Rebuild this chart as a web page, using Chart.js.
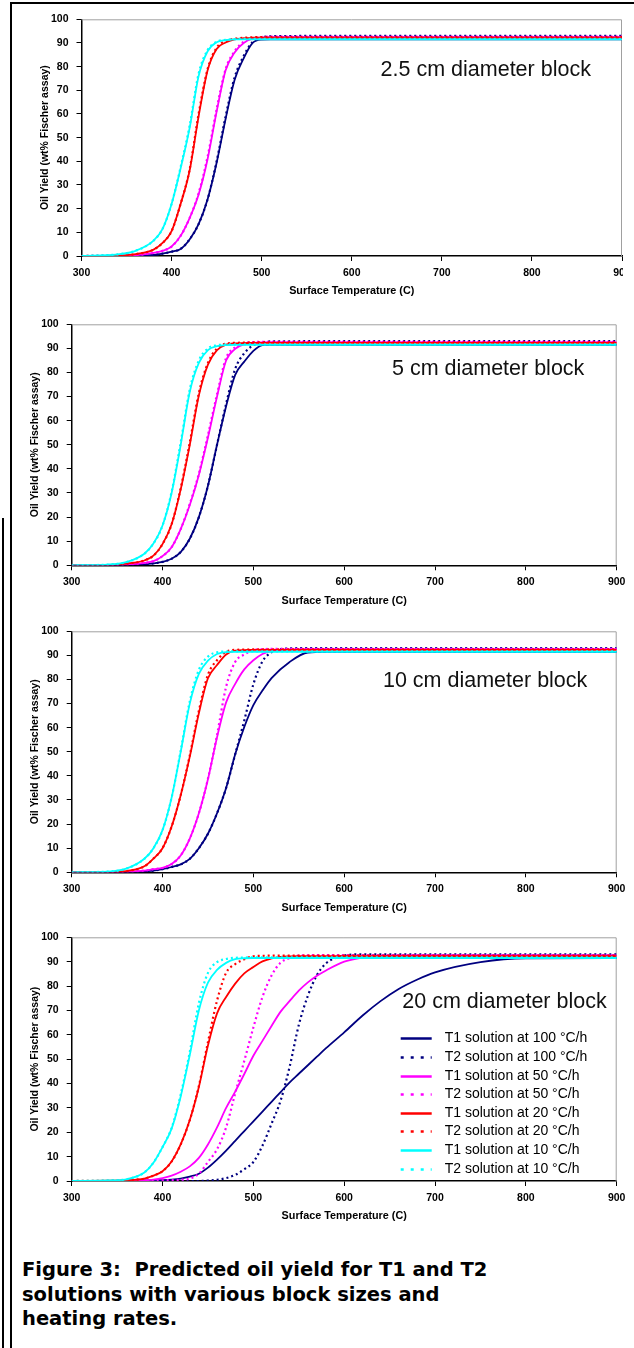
<!DOCTYPE html>
<html>
<head>
<meta charset="utf-8">
<script src="https://cdn.jsdelivr.net/npm/chart.js@4.4.0/dist/chart.umd.min.js"></script>
<style>
html, body { margin: 0; padding: 0; background: #fff; }
body { width: 634px; height: 1348px; position: relative; overflow: hidden; }
.panel { position: absolute; left: 0; overflow: hidden; }
.panel canvas { position: absolute; left: 0; top: 0; }
.frame { position: absolute; background: #000; }
#caption { position: absolute; left: 22px; top: 1258px; font: bold 19.5px "DejaVu Sans", Verdana, sans-serif;
  line-height: 24.5px; color: #000; white-space: pre; }
</style>
</head>
<body>
<div class="frame" style="left:10px;top:2px;width:624px;height:2px"></div>
<div class="frame" style="left:10px;top:2px;width:2px;height:1346px"></div>
<div class="frame" style="left:2px;top:518px;width:2px;height:830px"></div>

<div class="panel" id="p1"><canvas id="c1"></canvas></div>
<div class="panel" id="p2"><canvas id="c2"></canvas></div>
<div class="panel" id="p3"><canvas id="c3"></canvas></div>
<div class="panel" id="p4"><canvas id="c4"></canvas></div>

<div id="caption">Figure 3:  Predicted oil yield for T1 and T2
solutions with various block sizes and
heating rates.</div>

<script>
// surface temperatures (C) sampled for each block size
const temps25 = [300, 340, 360, 380, 390, 400, 410, 420, 430, 440, 450, 460, 470, 480, 490, 500, 510, 520, 600, 900];
const temps5 = [300, 340, 360, 380, 390, 400, 410, 420, 430, 440, 450, 460, 470, 480, 490, 500, 510, 520, 600, 900];
const temps10 = [300, 340, 360, 380, 390, 400, 410, 420, 430, 440, 450, 460, 470, 480, 490, 500, 510, 520, 540, 560, 580, 600, 900];
const temps20 = [300, 340, 360, 380, 390, 400, 410, 420, 430, 440, 450, 460, 470, 480, 490, 500, 510, 520, 530, 540, 550, 560, 570, 580, 600, 620, 640, 660, 680, 700, 750, 800, 900];

// 2.5 cm block - oil yield (wt% Fischer assay)
const b25_t1_100 = [0, 0, 0.1, 0.5, 1, 1.8, 3, 7, 13.5, 24, 39.4, 58, 74.5, 83.5, 90, 91.4, 91.5, 91.5, 91.5, 91.5];
const b25_t2_100 = [0, 0, 0.1, 0.5, 1, 1.8, 3, 7, 13.5, 24, 40, 59, 75.5, 84.5, 90.5, 92.3, 92.8, 92.9, 93, 93];
const b25_t1_50 = [0, 0.1, 0.4, 1.3, 2.2, 4, 8.5, 16, 26, 41, 61, 78.5, 86, 90, 91.8, 92.3, 92.5, 92.6, 92.6, 92.6];
const b25_t2_50 = [0, 0.1, 0.4, 1.3, 2.2, 4, 8.5, 16, 26.5, 42, 62, 79, 86.5, 90.5, 92, 92.5, 92.7, 92.7, 92.7, 92.7];
const b25_t1_20 = [0, 0.2, 0.8, 2.7, 5.5, 10.5, 22, 36, 59, 78.5, 87.5, 90.2, 91.5, 92, 92.2, 92.3, 92.3, 92.3, 92.3, 92.3];
const b25_t2_20 = [0, 0.2, 0.8, 2.7, 5.5, 10.5, 22, 36.5, 60, 79, 88, 90.8, 91.8, 92.2, 92.4, 92.5, 92.5, 92.5, 92.5, 92.5];
const b25_t1_10 = [0, 0.7, 2.2, 6.5, 11.5, 22, 37, 54, 76, 86.5, 90.3, 91.2, 91.5, 91.5, 91.5, 91.5, 91.5, 91.5, 91.5, 91.5];
const b25_t2_10 = [0, 0.7, 2.2, 6.5, 11.5, 22, 37.5, 55, 77, 87, 90.5, 91.3, 91.6, 91.7, 91.7, 91.7, 91.7, 91.7, 91.7, 91.7];

// 5 cm block
const b5_t1_100 = [0, 0, 0.1, 0.4, 0.8, 1.4, 2.7, 5.5, 11, 20, 33, 50, 66, 79, 84.5, 89, 91.4, 91.5, 91.5, 91.5];
const b5_t2_100 = [0, 0, 0.1, 0.4, 0.8, 1.4, 2.7, 5.5, 11, 20, 33, 50, 67, 81.5, 88, 91.3, 92.5, 92.9, 93, 93];
const b5_t1_50 = [0, 0, 0.3, 1, 1.7, 3.8, 7.5, 15, 25, 37.5, 53, 70, 85, 89.8, 91.8, 92.3, 92.5, 92.6, 92.6, 92.6];
const b5_t2_50 = [0, 0, 0.3, 1, 1.7, 3.8, 7.5, 15, 25.5, 38, 54, 71, 86, 90.5, 92.2, 92.6, 92.7, 92.7, 92.7, 92.7];
const b5_t1_20 = [0, 0.1, 0.7, 2, 4, 8.8, 17, 31.5, 50, 70.5, 83.3, 89.3, 91.6, 92.1, 92.2, 92.3, 92.3, 92.3, 92.3, 92.3];
const b5_t2_20 = [0, 0.1, 0.7, 2, 4, 8.8, 17, 32, 51, 71.5, 84, 90, 92, 92.3, 92.4, 92.5, 92.5, 92.5, 92.5, 92.5];
const b5_t1_10 = [0, 0.3, 1.3, 4.8, 9, 16.5, 30, 50, 72, 84, 89.3, 90.9, 91.4, 91.5, 91.5, 91.5, 91.5, 91.5, 91.5, 91.5];
const b5_t2_10 = [0, 0.3, 1.3, 4.8, 9, 16.5, 30.5, 51, 73, 85, 90, 91.3, 91.6, 91.7, 91.7, 91.7, 91.7, 91.7, 91.7, 91.7];

// 10 cm block
const b10_t1_100 = [0, 0, 0.1, 0.3, 0.7, 1.3, 2.2, 3.3, 5.6, 10, 16, 24.5, 35, 49, 60.3, 69.4, 75.4, 80.6, 87.3, 91.2, 91.5, 91.5, 91.5];
const b10_t2_100 = [0, 0, 0.1, 0.3, 0.7, 1.3, 2.2, 3.3, 5.6, 10, 16, 24.5, 35, 49, 63, 78, 87.5, 91.3, 92.9, 93, 93, 93, 93];
const b10_t1_50 = [0, 0, 0.2, 0.7, 1.3, 1.8, 3.4, 7, 14, 24.5, 38.6, 56, 70.5, 78.2, 84.2, 88, 90.6, 91.8, 92.5, 92.6, 92.6, 92.6, 92.6];
const b10_t2_50 = [0, 0, 0.2, 0.7, 1.3, 1.8, 3.4, 7, 14, 24.5, 38.8, 57, 77, 87.3, 90.4, 92.2, 92.6, 92.7, 92.7, 92.7, 92.7, 92.7, 92.7];
const b10_t1_20 = [0, 0.1, 0.5, 2.5, 5.7, 10, 19, 32, 48, 66, 80.5, 86, 90.4, 92, 92.2, 92.3, 92.3, 92.3, 92.3, 92.3, 92.3, 92.3, 92.3];
const b10_t2_20 = [0, 0.1, 0.5, 2.5, 5.7, 10, 19, 32, 48.5, 67, 82, 88, 91.5, 92.3, 92.4, 92.5, 92.5, 92.5, 92.5, 92.5, 92.5, 92.5, 92.5];
const b10_t1_10 = [0, 0.3, 1.5, 5.6, 10, 17.5, 31, 50, 70, 82.3, 87.8, 90.6, 91.4, 91.5, 91.5, 91.5, 91.5, 91.5, 91.5, 91.5, 91.5, 91.5, 91.5];
const b10_t2_10 = [0, 0.3, 1.5, 5.6, 10, 17.5, 31, 50.5, 71, 84, 89.5, 91.3, 91.6, 91.7, 91.7, 91.7, 91.7, 91.7, 91.7, 91.7, 91.7, 91.7, 91.7];

// 20 cm block
const b20_t1_100 = [0, 0, 0.1, 0.2, 0.3, 0.4, 0.6, 1, 1.8, 3, 5.5, 8.8, 12.5, 16.5, 20.5, 24.5, 28.5, 32.5, 36.5, 40.5, 44, 47.5, 51, 54.5, 61, 67.8, 73.8, 78.8, 82.6, 85.6, 89.8, 91.4, 91.5];
const b20_t2_100 = [0, 0, 0, 0, 0, 0, 0, 0, 0, 0, 0.2, 0.5, 1.2, 2.5, 4.8, 7.8, 14.5, 23.5, 33, 47, 64, 76, 84.5, 89.3, 92.5, 93, 93, 93, 93, 93, 93, 93, 93];
const b20_t1_50 = [0, 0, 0.1, 0.3, 0.6, 1.2, 2.2, 3.8, 6, 9.5, 15, 22, 30, 36.7, 43.9, 51.4, 57.5, 63.6, 69.5, 73.9, 78.1, 81.5, 84.2, 86.4, 90, 91.7, 92.3, 92.5, 92.6, 92.6, 92.6, 92.6, 92.6];
const b20_t2_50 = [0, 0, 0, 0.1, 0.2, 0.3, 0.4, 0.5, 1, 3, 7.8, 13, 22, 36, 49.3, 63, 75.5, 84.3, 89.6, 91.5, 92.5, 92.6, 92.7, 92.7, 92.7, 92.7, 92.7, 92.7, 92.7, 92.7, 92.7, 92.7, 92.7];
const b20_t1_20 = [0, 0.1, 0.3, 1, 2.2, 4, 8, 15, 25, 38.6, 55.6, 68.8, 75.5, 81, 85.2, 87.8, 90.1, 91.3, 92, 92.2, 92.3, 92.3, 92.3, 92.3, 92.3, 92.3, 92.3, 92.3, 92.3, 92.3, 92.3, 92.3, 92.3];
const b20_t2_20 = [0, 0.1, 0.3, 1, 2.2, 4, 8, 15, 25, 39, 57, 74, 85.4, 89, 91, 92.2, 92.4, 92.5, 92.5, 92.5, 92.5, 92.5, 92.5, 92.5, 92.5, 92.5, 92.5, 92.5, 92.5, 92.5, 92.5, 92.5, 92.5];
const b20_t1_10 = [0, 0.2, 0.7, 3.5, 7.5, 13.9, 21.5, 34.7, 51.7, 70, 81.4, 86.6, 89.5, 91, 91.4, 91.5, 91.5, 91.5, 91.5, 91.5, 91.5, 91.5, 91.5, 91.5, 91.5, 91.5, 91.5, 91.5, 91.5, 91.5, 91.5, 91.5, 91.5];
const b20_t2_10 = [0, 0.2, 0.7, 3.5, 7.5, 13.9, 21.8, 35.5, 53, 73, 85.4, 89.8, 91.1, 91.6, 91.7, 91.8, 91.8, 91.8, 91.8, 91.8, 91.8, 91.8, 91.8, 91.8, 91.8, 91.8, 91.8, 91.8, 91.8, 91.8, 91.8, 91.8, 91.8];

const seriesLabels = ['T1 solution at 100 \u00b0C/h', 'T2 solution at 100 \u00b0C/h',
  'T1 solution at 50 \u00b0C/h', 'T2 solution at 50 \u00b0C/h',
  'T1 solution at 20 \u00b0C/h', 'T2 solution at 20 \u00b0C/h',
  'T1 solution at 10 \u00b0C/h', 'T2 solution at 10 \u00b0C/h'];
const seriesColors = ['#000080', '#000080', '#ff00ff', '#ff00ff', '#ff0000', '#ff0000', '#00ffff', '#00ffff'];
const xTicks = [300, 400, 500, 600, 700, 800, 900];
const yTicks = [0, 10, 20, 30, 40, 50, 60, 70, 80, 90, 100];

const panels = [
  { id: 'c1', box: 'p1', temps: temps25, clipW: 623, canvasW: 640,
    series: [b25_t1_100, b25_t2_100, b25_t1_50, b25_t2_50, b25_t1_20, b25_t2_20, b25_t1_10, b25_t2_10],
    plot: { left: 81.5, right: 622, top: 17, bottom: 256 },
    note: { text: '2.5 cm diameter block', x: 632, y: 78.7 } },
  { id: 'c2', box: 'p2', temps: temps5, clipW: 634, canvasW: 634,
    series: [b5_t1_100, b5_t2_100, b5_t1_50, b5_t2_50, b5_t1_20, b5_t2_20, b5_t1_10, b5_t2_10],
    plot: { left: 71.7, right: 616.7, top: 322.7, bottom: 565.3 },
    note: { text: '5 cm diameter block', x: 652.6, y: 81.3 } },
  { id: 'c3', box: 'p3', temps: temps10, clipW: 634, canvasW: 634,
    series: [b10_t1_100, b10_t2_100, b10_t1_50, b10_t2_50, b10_t1_20, b10_t2_20, b10_t1_10, b10_t2_10],
    plot: { left: 71.7, right: 616.7, top: 629, bottom: 872.3 },
    note: { text: '10 cm diameter block', x: 642.7, y: 79.3 } },
  { id: 'c4', box: 'p4', temps: temps20, clipW: 634, canvasW: 634,
    series: [b20_t1_100, b20_t2_100, b20_t1_50, b20_t2_50, b20_t1_20, b20_t2_20, b20_t1_10, b20_t2_10],
    plot: { left: 71.7, right: 616.7, top: 935, bottom: 1181 },
    note: { text: '20 cm diameter block', x: 664, y: 73.4 },
    legend: { lineX: 329, lineW: 31, textX: 373, top: 101, step: 18.6 } }
];

const Y_AXIS_W = 43;
const X_AXIS_H = 42;
const BOLD = '"Liberation Sans", Arial, sans-serif';

// grey plot-area frame, block label and legend
const decorPlugin = {
  id: 'decor',
  beforeDatasetsDraw(chart) {
    const { ctx, chartArea: ca } = chart;
    ctx.save();
    ctx.strokeStyle = '#a0a0a0';
    ctx.lineWidth = 1;
    ctx.beginPath();
    ctx.moveTo(ca.left, ca.top + 0.5);
    ctx.lineTo(ca.right - 0.5, ca.top + 0.5);
    ctx.lineTo(ca.right - 0.5, ca.bottom);
    ctx.stroke();
    ctx.restore();
  },
  afterDraw(chart, args, opts) {
    const { ctx, chartArea: ca, scales } = chart;
    ctx.save();
    ctx.fillStyle = '#111';
    ctx.textAlign = 'left';
    ctx.textBaseline = 'middle';
    ctx.font = '21.5px ' + BOLD;
    ctx.fillText(opts.text, scales.x.getPixelForValue(opts.x), scales.y.getPixelForValue(opts.y));
    if (opts.legend) {
      const lg = opts.legend;
      ctx.font = '14px ' + BOLD;
      chart.data.datasets.forEach((ds, i) => {
        const y = Math.round(ca.top + lg.top + i * lg.step) + 0.5;
        ctx.strokeStyle = ds.borderColor;
        ctx.lineWidth = 2.5;
        ctx.setLineDash(ds.borderDash.length ? [3, 7] : []);
        ctx.beginPath();
        ctx.moveTo(ca.left + lg.lineX, y);
        ctx.lineTo(ca.left + lg.lineX + lg.lineW, y);
        ctx.stroke();
        ctx.setLineDash([]);
        ctx.fillStyle = '#000';
        ctx.fillText(ds.label, ca.left + lg.textX, y);
      });
    }
    ctx.restore();
  }
};

panels.forEach(p => {
  const canvasTop = Math.floor(p.plot.top - 12);
  const h = Math.ceil(p.plot.bottom + X_AXIS_H + 2 - canvasTop);
  const box = document.getElementById(p.box);
  box.style.top = canvasTop + 'px';
  box.style.width = p.clipW + 'px';
  box.style.height = h + 'px';
  const cv = document.getElementById(p.id);
  cv.width = p.canvasW;
  cv.height = h;

  const datasets = p.series.map((ys, i) => ({
    label: seriesLabels[i],
    data: p.temps.map((t, k) => ({ x: t, y: ys[k] })),
    borderColor: seriesColors[i],
    borderWidth: i % 2 ? 2.2 : 1.8,
    borderDash: i % 2 ? [2, 3] : [],
    pointRadius: 0,
    fill: false,
    cubicInterpolationMode: 'monotone',
    order: 8 - i
  }));

  new Chart(cv, {
    type: 'line',
    data: { datasets: datasets },
    options: {
      responsive: false,
      animation: false,
      layout: {
        padding: {
          left: p.plot.left - Y_AXIS_W,
          right: p.canvasW - p.plot.right,
          top: p.plot.top - canvasTop,
          bottom: h - (p.plot.bottom - canvasTop) - X_AXIS_H
        }
      },
      scales: {
        x: {
          type: 'linear', min: 300, max: 900,
          afterFit: s => { s.height = X_AXIS_H; },
          afterBuildTicks: s => { s.ticks = xTicks.map(v => ({ value: v })); },
          grid: { drawOnChartArea: false, drawTicks: true, tickLength: 5, color: '#000', lineWidth: 1 },
          border: { display: true, color: '#000', width: 1.5 },
          ticks: { color: '#000', padding: 5.5, maxRotation: 0, font: { family: BOLD, size: 10.5, weight: 'bold' } },
          title: { display: true, text: 'Surface Temperature (C)', color: '#000', padding: 0,
            font: { family: BOLD, size: 10.8, weight: 'bold', lineHeight: 1.2 } }
        },
        y: {
          type: 'linear', min: 0, max: 100,
          afterFit: s => { s.width = Y_AXIS_W; },
          afterBuildTicks: s => { s.ticks = yTicks.map(v => ({ value: v })); },
          grid: { drawOnChartArea: false, drawTicks: true, tickLength: 5, color: '#000', lineWidth: 1 },
          border: { display: true, color: '#000', width: 1.5 },
          ticks: { color: '#000', padding: 8, font: { family: BOLD, size: 10.5, weight: 'bold' } },
          title: { display: true, text: 'Oil Yield (wt% Fischer assay)', color: '#000', padding: 0,
            font: { family: BOLD, size: 10.5, weight: 'bold', lineHeight: 1.2 } }
        }
      },
      plugins: {
        legend: { display: false },
        tooltip: { enabled: false },
        decor: { text: p.note.text, x: p.note.x, y: p.note.y, legend: p.legend || null }
      }
    },
    plugins: [decorPlugin]
  });
});
</script>
</body>
</html>
